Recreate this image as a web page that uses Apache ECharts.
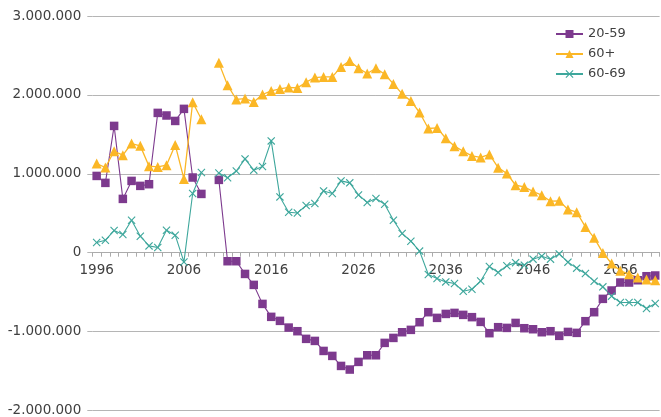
<!DOCTYPE html>
<html>
<head>
<meta charset="utf-8">
<script src="https://cdn.jsdelivr.net/npm/echarts@6/dist/echarts.min.js"></script>
<style>
html,body{margin:0;padding:0;background:#fff;}
#chart{width:661px;height:417px;}
</style>
</head>
<body>
<div id="chart"></div>
<script>
var years = [];
for (var y = 1996; y <= 2060; y++) years.push(String(y));

var s2059 = [973000,885000,1607000,682000,910000,847000,868000,1772000,1739000,1670000,
 1823000,953000,745000,null,923000,-108000,-108000,-269000,-408000,-649000,
 -813000,-864000,-949000,-995000,-1092000,-1118000,-1245000,-1308000,-1435000,-1481000,
 -1384000,-1300000,-1300000,-1143000,-1080000,-1008000,-978000,-881000,-754000,-826000,
 -776000,-763000,-788000,-817000,-877000,-1020000,-944000,-953000,-890000,-957000,
 -970000,-1008000,-995000,-1054000,-1004000,-1016000,-868000,-754000,-585000,-479000,
 -378000,-378000,-349000,-298000,-289000];

var s60plus = [1130000,1080000,1286000,1236000,1384000,1354000,1096000,1087000,1109000,1366000,
 935000,1907000,1692000,null,2406000,2123000,1942000,1954000,1911000,2005000,
 2051000,2076000,2094000,2089000,2161000,2220000,2228000,2228000,2355000,2431000,
 2338000,2271000,2338000,2262000,2139000,2013000,1924000,1777000,1574000,1582000,
 1451000,1350000,1286000,1227000,1207000,1245000,1078000,1004000,855000,834000,
 776000,729000,653000,657000,548000,513000,327000,188000,-3000,-137000,
 -230000,-272000,-314000,-340000,-349000];

var s6069 = [129000,158000,281000,230000,412000,209000,86000,66000,285000,222000,
 -117000,750000,1016000,null,1011000,950000,1035000,1189000,1046000,1092000,
 1417000,707000,513000,504000,598000,624000,783000,750000,910000,885000,
 732000,636000,687000,615000,412000,243000,146000,20000,-276000,-327000,
 -370000,-390000,-488000,-463000,-359000,-175000,-251000,-165000,-126000,-158000,
 -82000,-44000,-82000,-15000,-120000,-196000,-264000,-361000,-433000,-551000,
 -631000,-631000,-631000,-707000,-644000];

var seriesNames = ['20-59', '60+', '60-69'];
var yTicks = [-2000000, -1000000, 0, 1000000, 2000000, 3000000];

function fmt(v) {
  if (v === 0) return '0';
  var neg = v < 0;
  var s = String(Math.abs(v)).replace(/\B(?=(\d{3})+(?!\d))/g, '.');
  return (neg ? '-' : '') + s;
}

var crossPath = 'path://M0,1L1,0L5,4L9,0L10,1L6,5L10,9L9,10L5,6L1,10L0,9L4,5Z';
var font = 'DejaVu Sans';

var gridTop = 16, gridBottom = 6.5, chartH = 417;
var plotH = chartH - gridTop - gridBottom;
var yMin = yTicks[0], yMax = yTicks[yTicks.length - 1];
// distance from bottom edge of plot up to the zero line
var zeroOffset = plotH * (0 - yMin) / (yMax - yMin);

var chart = echarts.init(document.getElementById('chart'), null, {renderer: 'canvas'});
chart.setOption({
  animation: false,
  backgroundColor: '#ffffff',
  grid: {left: 92.3, right: 1.4, top: gridTop, bottom: gridBottom, containLabel: false, outerBoundsMode: 'none'},
  legend: {
    orient: 'vertical',
    left: 555,
    top: 27,
    padding: 0,
    itemWidth: 27,
    itemHeight: 10,
    itemGap: 6,
    textStyle: {fontFamily: font, fontSize: 13, color: '#404040', lineHeight: 14},
    data: seriesNames
  },
  xAxis: {
    type: 'category',
    data: years,
    boundaryGap: true,
    position: 'bottom',
    offset: -zeroOffset,
    axisLine: {onZero: false, lineStyle: {color: '#ababab', width: 1}},
    axisTick: {show: true, interval: 0, length: 4, inside: false, lineStyle: {color: '#ababab'}},
    axisLabel: {interval: 9, margin: 11, fontFamily: font, fontSize: 13.5, color: '#404040'},
    splitLine: {show: false}
  },
  yAxis: {
    type: 'value',
    min: yMin,
    max: yMax,
    interval: 1000000,
    axisLine: {show: false},
    axisTick: {show: true, length: 5, lineStyle: {color: '#b5b5b5'}},
    axisLabel: {margin: 11, fontFamily: font, fontSize: 13.5, color: '#404040', formatter: fmt},
    splitLine: {show: true, lineStyle: {color: '#b5b5b5', width: 1}}
  },
  series: [
    {
      name: seriesNames[0], type: 'line', data: s2059,
      symbol: 'rect', symbolSize: 8.5, showAllSymbol: true, connectNulls: false,
      itemStyle: {color: '#7d3a8e'},
      lineStyle: {color: '#7d3a8e', width: 1.1}
    },
    {
      name: seriesNames[1], type: 'line', data: s60plus,
      symbol: 'triangle', symbolSize: 10, showAllSymbol: true, connectNulls: false,
      itemStyle: {color: '#fbb726'},
      lineStyle: {color: '#fbb726', width: 1.3}
    },
    {
      name: seriesNames[2], type: 'line', data: s6069,
      symbol: crossPath, symbolSize: 8, showAllSymbol: true, connectNulls: false,
      itemStyle: {color: '#3ea79c'},
      lineStyle: {color: '#3ea79c', width: 1.1}
    }
  ]
});
</script>
</body>
</html>
